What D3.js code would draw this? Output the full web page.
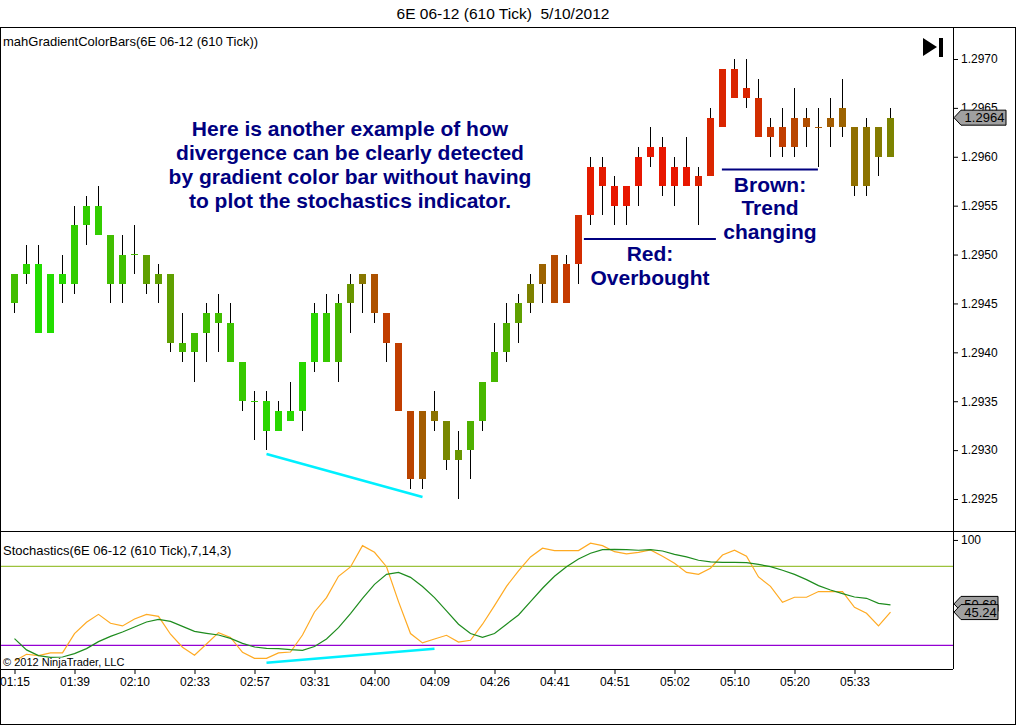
<!DOCTYPE html>
<html lang="en">
<head>
<meta charset="UTF-8">
<title>6E 06-12 (610 Tick) 5/10/2012</title>
<script src="https://d3js.org/d3.v7.min.js"></script>
<style>
  body { margin: 0; background: #fff; }
  svg { display: block; font-family: "Liberation Sans", Arial, sans-serif; }
  .axis text { font-size: 12px; fill: #000; }
  .axis line { stroke: #000; }
  .axis path { display: none; }
  .note { font-size: 21px; font-weight: bold; fill: #000080; text-anchor: middle; }
  .frame { stroke: #000; stroke-width: 1; fill: none; shape-rendering: crispEdges; }
</style>
</head>
<body>
<svg id="chart" width="1016" height="725"></svg>
<script>
// OHLC for each 610-tick bar
const open = [1.2945,1.2948,1.2949,1.2942,1.2948,1.2947,1.2953,1.2955,1.2952,1.2947,
  1.2950,1.2950,1.2947,1.2948,1.2941,1.2940,1.2942,1.2944,1.2943,1.2939,
  1.2935,1.2935,1.2932,1.2934,1.2934,1.2939,1.2944,1.2939,1.2945,1.2947,
  1.2948,1.2944,1.2941,1.2934,1.2927,1.2934,1.2933,1.2929,1.2930,1.2933,
  1.2937,1.2940,1.2943,1.2945,1.2947,1.2950,1.2945,1.2949,1.2954,1.2959,
  1.2957,1.2955,1.2957,1.2960,1.2961,1.2957,1.2959,1.2957,1.2958,1.2963,
  1.2969,1.2966,1.2966,1.2962,1.2963,1.2961,1.2964,1.2963,1.2963,1.2963,
  1.2963,1.2957,1.2963,1.2960];
const high = [1.2948,1.2951,1.2951,1.2948,1.2950,1.2955,1.2956,1.2957,1.2952,1.2952,
  1.2953,1.2950,1.2949,1.2948,1.2944,1.2942,1.2945,1.2946,1.2945,1.2939,
  1.2936,1.2936,1.2935,1.2937,1.2939,1.2945,1.2946,1.2946,1.2948,1.2948,
  1.2948,1.2944,1.2941,1.2934,1.2934,1.2936,1.2933,1.2932,1.2933,1.2937,
  1.2943,1.2945,1.2946,1.2948,1.2949,1.2950,1.2950,1.2954,1.2960,1.2960,
  1.2958,1.2957,1.2961,1.2963,1.2962,1.2960,1.2962,1.2959,1.2965,1.2969,
  1.2970,1.2970,1.2968,1.2964,1.2965,1.2967,1.2965,1.2965,1.2966,1.2968,
  1.2963,1.2964,1.2963,1.2965];
const low = [1.2944,1.2947,1.2942,1.2942,1.2945,1.2946,1.2951,1.2952,1.2945,1.2945,
  1.2948,1.2946,1.2945,1.2940,1.2939,1.2937,1.2939,1.2940,1.2939,1.2934,
  1.2931,1.2930,1.2932,1.2933,1.2932,1.2938,1.2939,1.2937,1.2942,1.2944,
  1.2943,1.2939,1.2934,1.2926,1.2926,1.2932,1.2928,1.2925,1.2927,1.2932,
  1.2937,1.2939,1.2941,1.2944,1.2945,1.2945,1.2945,1.2947,1.2953,1.2954,
  1.2953,1.2953,1.2955,1.2959,1.2956,1.2955,1.2957,1.2953,1.2958,1.2963,
  1.2966,1.2965,1.2962,1.2960,1.2960,1.2960,1.2961,1.2959,1.2961,1.2962,
  1.2956,1.2956,1.2958,1.2960];
const close = [1.2948,1.2949,1.2942,1.2948,1.2947,1.2953,1.2955,1.2952,1.2947,1.2950,
  1.2950,1.2947,1.2948,1.2941,1.2940,1.2942,1.2944,1.2943,1.2939,1.2935,
  1.2935,1.2932,1.2934,1.2933,1.2939,1.2944,1.2939,1.2945,1.2947,1.2948,
  1.2944,1.2941,1.2934,1.2927,1.2934,1.2933,1.2929,1.2930,1.2933,1.2937,
  1.2940,1.2943,1.2945,1.2947,1.2949,1.2945,1.2949,1.2954,1.2959,1.2957,
  1.2955,1.2957,1.2960,1.2961,1.2957,1.2959,1.2957,1.2958,1.2964,1.2969,
  1.2966,1.2967,1.2962,1.2963,1.2961,1.2964,1.2963,1.2963,1.2964,1.2965,
  1.2957,1.2963,1.2960,1.2964];

// gradient level of each bar, 0 = green .. 100 = red
const gradient = [15,5,0,0,2,8,8,8,15,14,
  18,30,30,30,18,15,14,15,13,10,
  10,4,3,3,3,4,10,18,35,50,
  68,78,78,75,63,52,42,35,22,18,
  18,22,30,45,60,72,80,87,95,95,
  97,97,97,97,97,97,97,92,90,90,
  90,90,86,82,78,74,70,66,63,60,
  54,52,48,44];

// Stochastics(7,14,3)
const stochK = [8.1,13.2,12.2,14.2,14.2,28.9,37.5,43.5,36.7,34.7,
  40,43.5,42,28.4,18.5,12.4,21,29.6,26,14.7,
  10.1,10.1,14.2,14.9,27.8,45.3,56.2,72.4,79.5,95.7,
  90.6,79.7,53.2,28.9,21.8,24.8,27.6,22.5,23.8,36,
  50.1,64.8,76.5,87.1,93.7,91.9,91.9,91.9,97.5,95.7,
  91.1,89.4,90.6,92.4,87.6,82.3,75.4,73.9,78.5,88.6,
  92.2,87.6,71.9,64.8,52.7,56.5,56.5,60.8,60.8,60.8,
  48.9,44.3,34.7,45.24];
const stochD = [25.1,16.5,12.2,10.9,11.1,13.7,17.5,22.8,26.8,30.1,
  33.9,37.7,39.7,38.2,34.4,30.6,29.1,27.8,25.3,21.5,
  18.7,17.7,17.5,16.7,16.2,19.1,24.8,33.4,44.1,55.7,
  66.3,73.9,75.4,71.6,64.6,56.2,46.1,36,28.9,26.1,
  28.9,36,43,53.2,63.3,72.4,79.7,85.6,89.9,92.7,
  92.9,92.6,92.2,92.7,91.6,89.1,87.1,84.6,83.3,83,
  83,82.8,81.5,79.7,77,73.9,69.9,65.3,62,59.2,
  56.7,55.7,51.9,50.68];
const stochLevels = [80, 20];

const timeTickIndex = [0,5,10,15,20,25,30,35,40,45,50,55,60,65,70];
const timeLabels = ["01:15","01:39","02:10","02:33","02:57","03:31","04:00","04:09",
  "04:26","04:41","04:51","05:02","05:10","05:20","05:33"];
const priceTicks = [1.2925,1.2930,1.2935,1.2940,1.2945,1.2950,1.2955,1.2960,1.2965,1.2970];

// drawn annotations: [bar index, value]
const priceDivergence = [[21, 1.29296], [34, 1.29252]];
const stochDivergence = [[21, 6.7], [35, 17.4]];
const overboughtLine = [[47.45, 1.29516], [58.45, 1.29516]];
const trendLine = [[58.95, 1.29587], [66.95, 1.29587]];

const mainNote = ["Here is another example of how", "divergence can be clearly detected",
  "by gradient color bar without having", "to plot the stochastics indicator."];

const width = 1016, height = 725;
const plotRight = 953, priceTop = 27, panelSplit = 531, stochBottom = 669;

const svg = d3.select("#chart");
const bars = d3.range(open.length);

const x = d3.scaleLinear().domain([0, 73]).range([14.5, 890.5]);
const yPrice = d3.scaleLinear().domain([1.2925, 1.2970]).range([499, 59]);
const yStoch = d3.scaleLinear().domain([20, 80]).range([645.3, 566.3]);
const barColor = d3.scaleLinear().domain([0, 100])
  .range(["#22dd00", "#ee1100"]).interpolate(d3.interpolateRgb);

svg.append("rect").attr("width", width).attr("height", height).attr("fill", "#fff");

svg.append("text")
  .attr("x", 503).attr("y", 19)
  .attr("text-anchor", "middle")
  .style("font-size", "15.5px")
  .style("white-space", "pre")
  .text("6E 06-12 (610 Tick)  5/10/2012");

const defs = svg.append("defs");
defs.append("clipPath").attr("id", "clipPrice")
  .append("rect").attr("x", 1).attr("y", priceTop).attr("width", plotRight - 1).attr("height", panelSplit - priceTop);
defs.append("clipPath").attr("id", "clipStoch")
  .append("rect").attr("x", 1).attr("y", panelSplit).attr("width", plotRight - 1).attr("height", stochBottom - panelSplit);

// ---- price panel
const pricePlot = svg.append("g").attr("clip-path", "url(#clipPrice)");

pricePlot.selectAll(".wick")
  .data(bars)
  .enter()
  .append("line")
  .attr("class", "wick")
  .attr("x1", i => x(i)).attr("x2", i => x(i))
  .attr("y1", i => yPrice(high[i])).attr("y2", i => yPrice(low[i]))
  .attr("stroke", "#000")
  .attr("stroke-width", 1)
  .attr("shape-rendering", "crispEdges");

pricePlot.selectAll(".body")
  .data(bars)
  .enter()
  .append("rect")
  .attr("class", "body")
  .attr("x", i => x(i) - 3.5)
  .attr("width", 7)
  .attr("y", i => yPrice(Math.max(open[i], close[i])) - (open[i] === close[i] ? 0.5 : 0))
  .attr("height", i => Math.max(1, yPrice(Math.min(open[i], close[i])) - yPrice(Math.max(open[i], close[i]))))
  .attr("fill", i => barColor(gradient[i]))
  .attr("shape-rendering", "crispEdges");

const priceLine = d3.line().x(d => x(d[0])).y(d => yPrice(d[1]));
pricePlot.append("path").attr("d", priceLine(priceDivergence))
  .attr("stroke", "#00f0ff").attr("stroke-width", 2.5).attr("fill", "none");
pricePlot.append("path").attr("d", priceLine(overboughtLine))
  .attr("stroke", "#000080").attr("stroke-width", 2).attr("fill", "none");
pricePlot.append("path").attr("d", priceLine(trendLine))
  .attr("stroke", "#000080").attr("stroke-width", 2).attr("fill", "none");

pricePlot.selectAll(".main-note")
  .data(mainNote)
  .enter()
  .append("text")
  .attr("class", "note")
  .attr("x", 350)
  .attr("y", (d, i) => 128 + i * 24.3)
  .attr("dy", "0.36em")
  .text(d => d);

[["Red:", 253.5], ["Overbought", 277.5]].forEach(([t, cy]) => {
  pricePlot.append("text").attr("class", "note").attr("x", 650).attr("y", cy).attr("dy", "0.36em").text(t);
});
[["Brown:", 184], ["Trend", 207.5], ["changing", 231.5]].forEach(([t, cy]) => {
  pricePlot.append("text").attr("class", "note").attr("x", 770).attr("y", cy).attr("dy", "0.36em").text(t);
});

svg.append("text")
  .attr("x", 3).attr("y", 46)
  .style("font-size", "13px")
  .text("mahGradientColorBars(6E 06-12 (610 Tick))");

// "scroll to end" button
svg.append("path").attr("d", "M923,38 L937,47 L923,56 Z").attr("fill", "#000");
svg.append("rect").attr("x", 939).attr("y", 38).attr("width", 4).attr("height", 19).attr("fill", "#000");

svg.append("g")
  .attr("class", "axis")
  .attr("transform", `translate(${plotRight},0)`)
  .call(d3.axisRight(yPrice).tickValues(priceTicks).tickSize(5).tickPadding(3).tickFormat(d3.format(".4f")));

function marker(cy, label, right) {
  const g = svg.append("g");
  g.append("path")
    .attr("d", `M954,${cy} L961,${cy - 7.5} H${right} V${cy + 7.5} H961 Z`)
    .attr("fill", "#a0a0a0").attr("stroke", "#000").attr("stroke-width", 1);
  g.append("text")
    .attr("x", (961 + right) / 2 + 1).attr("y", cy).attr("dy", "0.36em")
    .attr("text-anchor", "middle")
    .style("font-size", "13px")
    .text(label);
}
marker(yPrice(close[close.length - 1]), d3.format(".4f")(close[close.length - 1]), 1006);

// ---- stochastics panel
const stochPlot = svg.append("g").attr("clip-path", "url(#clipStoch)");

stochPlot.append("line")
  .attr("x1", 0).attr("x2", plotRight)
  .attr("y1", yStoch(stochLevels[0])).attr("y2", yStoch(stochLevels[0]))
  .attr("stroke", "#9dc23c").attr("stroke-width", 1.2);
stochPlot.append("line")
  .attr("x1", 0).attr("x2", plotRight)
  .attr("y1", yStoch(stochLevels[1])).attr("y2", yStoch(stochLevels[1]))
  .attr("stroke", "#9400d3").attr("stroke-width", 1.2);

const kLine = d3.line().x((d, i) => x(i)).y(d => yStoch(d));
stochPlot.append("path").attr("d", kLine(stochK))
  .attr("stroke", "#ffaa22").attr("stroke-width", 1.2).attr("fill", "none");
stochPlot.append("path").attr("d", kLine(stochD))
  .attr("stroke", "#1e8c1e").attr("stroke-width", 1.2).attr("fill", "none");

stochPlot.append("path")
  .attr("d", d3.line().x(d => x(d[0])).y(d => yStoch(d[1]))(stochDivergence))
  .attr("stroke", "#00f0ff").attr("stroke-width", 2.5).attr("fill", "none");

svg.append("text")
  .attr("x", 3).attr("y", 555)
  .style("font-size", "13px")
  .text("Stochastics(6E 06-12 (610 Tick),7,14,3)");

svg.append("text")
  .attr("x", 3).attr("y", 666)
  .style("font-size", "11px")
  .text("\u00a9 2012 NinjaTrader, LLC");

svg.append("g")
  .attr("class", "axis")
  .attr("transform", `translate(${plotRight},0)`)
  .call(d3.axisRight(yStoch).tickValues([100]).tickSize(5).tickPadding(3));

marker(yStoch(stochD[stochD.length - 1]) - 1, d3.format(".2f")(stochD[stochD.length - 1]), 998);
marker(yStoch(stochK[stochK.length - 1]), d3.format(".2f")(stochK[stochK.length - 1]), 998);

// ---- time axis
svg.append("g")
  .attr("class", "axis")
  .attr("transform", `translate(0,${stochBottom})`)
  .call(d3.axisBottom(x).tickValues(timeTickIndex).tickSize(5).tickPadding(3)
    .tickFormat((d, i) => timeLabels[i]));

// ---- frame
svg.append("rect").attr("class", "frame").attr("x", 0.5).attr("y", priceTop + 0.5)
  .attr("width", width - 1.5).attr("height", height - priceTop - 1.5);
svg.append("line").attr("class", "frame").attr("x1", 0).attr("x2", width)
  .attr("y1", panelSplit + 0.5).attr("y2", panelSplit + 0.5);
svg.append("line").attr("class", "frame").attr("x1", 0).attr("x2", plotRight)
  .attr("y1", stochBottom + 0.5).attr("y2", stochBottom + 0.5);
svg.append("line").attr("class", "frame").attr("x1", plotRight + 0.5).attr("x2", plotRight + 0.5)
  .attr("y1", priceTop).attr("y2", stochBottom);
</script>
</body>
</html>
